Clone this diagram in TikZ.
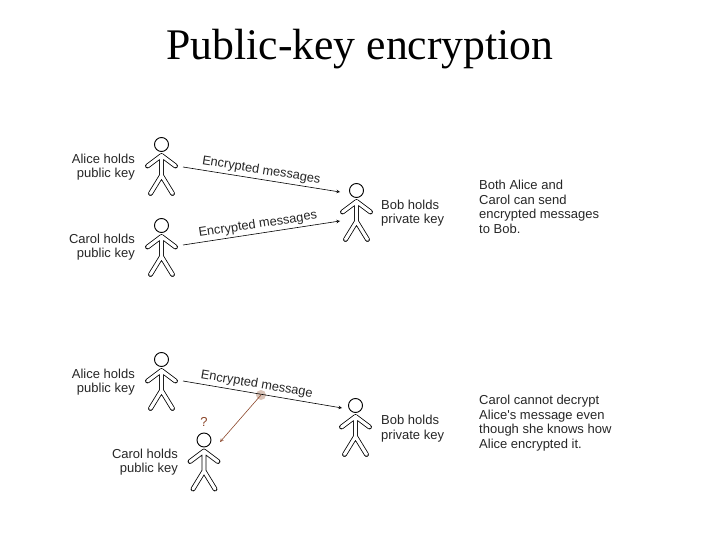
\documentclass[tikz,border=0pt]{standalone}
\usepackage{fontspec}
\setmainfont{Liberation Serif}
\newfontfamily\labelfont{Liberation Sans}
\usepackage{xcolor}
\definecolor{keybrown}{RGB}{140,72,44}
\definecolor{tapblob}{RGB}{218,196,184}
\begin{document}
\begin{tikzpicture}[
    x=1pt, y=-1pt,
    msg line/.style={line width=.6pt, ->, >={stealth[scale=1.4]}},
    tap line/.style={line width=.6pt, ->, >={stealth[scale=1.4]}, color=keybrown},
    caption/.style={font=\labelfont\fontsize{13}{14.6}\selectfont, inner sep=0pt, text=black!85},
    who left/.style={caption, align=right, anchor=east},
    who right/.style={caption, align=left, anchor=west},
    msg label/.style={font=\labelfont\fontsize{12.8}{14}\selectfont, sloped, above, inner sep=2.5pt, text=black!85},
    person/.pic={
        \draw[line width=.9pt, fill=white] (0,0) circle (7);
        \draw[line width=.8pt, double=white, double distance=3.2pt, line join=round, line cap=round]
            (-14,21.5) -- (0,11) -- (14,21.5)
            (0,11) -- (0,31) (-11,49) -- (0,31) -- (11,49);
        \coordinate (-head) at (0,0);
    }
    ]
    \useasboundingbox (0,0) rectangle (720,540);
    \node[font=\fontsize{43.7}{46}\selectfont] (title) at (360,49.5) {Public-key encryption};
    % Top: both can send
    \pic (aliceA) at (161.5,144.5) {person};
    \pic (carolA) at (161.5,225.5) {person};
    \pic (bobA) at (356.5,190.5) {person};
    \coordinate (aliceAout) at (183,167);
    \coordinate (carolAout) at (183,245);
    \coordinate (bobAin) at (340,192);
    \coordinate (bobAin2) at (340,221);
    \draw[msg line] (aliceAout) -- (bobAin)
        node[msg label, pos=.49] (msgAlice) {Encrypted messages};
    \draw[msg line] (carolAout) -- (bobAin2)
        node[msg label, pos=.485] (msgCarol) {Encrypted messages};
    \node[who left] (aliceAtxt) at (135,167) {Alice holds\\public key};
    \node[who left] (carolAtxt) at (135,247) {Carol holds\\public key};
    \node[who right] (bobAtxt) at (381,213) {Bob holds\\private key};
    \node[who right] (noteA) at (479,207) {Both Alice and\\Carol can send\\encrypted messages\\to Bob.};
    % Bottom: Carol cannot read it
    \pic (aliceB) at (161.5,359.5) {person};
    \pic (carolB) at (204,440) {person};
    \pic (bobB) at (355.5,405.5) {person};
    \coordinate (aliceBout) at (183,381);
    \coordinate (bobBin) at (342,408);
    \coordinate (tap) at (261,395);
    \coordinate (carolBin) at (220,442);
    \fill[tapblob] (tap) circle (5);
    \draw[msg line] (aliceBout) -- (bobBin)
        node[msg label, pos=.455] (msgTap) {Encrypted message};
    \draw[tap line] (tap) -- (carolBin);
    \node[font=\labelfont\fontsize{13}{14}\selectfont, text=keybrown] (huh) at (204,422) {?};
    \node[who left] (aliceBtxt) at (135,382) {Alice holds\\public key};
    \node[who left] (carolBtxt) at (178,462) {Carol holds\\public key};
    \node[who right] (bobBtxt) at (381,428.5) {Bob holds\\private key};
    \node[who right] (noteB) at (479,423) {Carol cannot decrypt\\Alice's message even\\though she knows how\\Alice encrypted it.};
\end{tikzpicture}
\end{document}
